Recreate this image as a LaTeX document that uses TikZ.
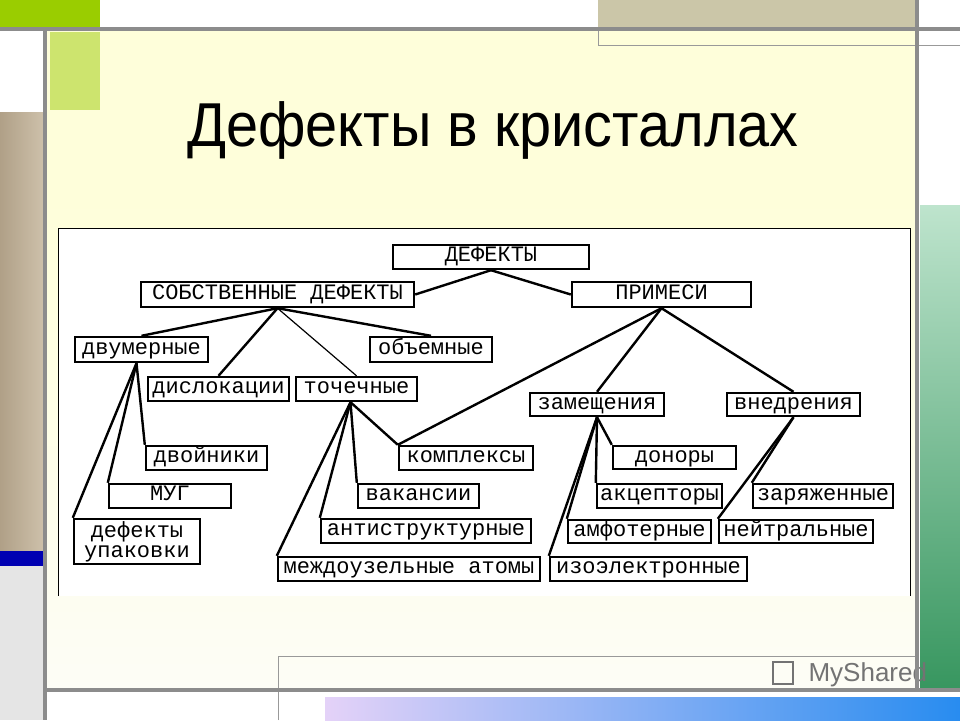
\documentclass[tikz,border=0pt]{standalone}
\usepackage{fontspec}
\setmainfont{Liberation Sans}
\newfontfamily\monof{Liberation Mono}
\usetikzlibrary{calc}
\definecolor{tanL}{RGB}{176,160,135}
\definecolor{tanR}{RGB}{205,192,170}
\definecolor{tanT}{RGB}{203,198,168}
\definecolor{mintT}{RGB}{190,228,205}
\definecolor{mintB}{RGB}{55,150,95}
\definecolor{purL}{RGB}{228,210,248}
\definecolor{bluR}{RGB}{40,140,240}
\definecolor{grn}{RGB}{154,205,0}
\definecolor{lgrn}{RGB}{205,228,110}
\definecolor{cream}{RGB}{254,254,218}
\definecolor{creamB}{RGB}{253,253,246}
\tikzset{
 box/.style={draw=black,line width=2.4pt,fill=white,inner sep=0pt,font=\monof\fontsize{22}{20}\selectfont,text=black,align=center,text height=12pt,text depth=3pt},
 ln/.style={draw=black,line width=2.4pt},
 thin/.style={draw=black,line width=1.2pt},
 deco/.style={draw=black!45,line width=4pt}
}
\newcommand{\bx}[6]{\node[box,minimum width={(#4-#2)*1pt},minimum height={(#5-#3)*1pt}] (#1) at ({(#2+#4)/2},{(#3+#5)/2}) {#6};}
\begin{document}
\begin{tikzpicture}[x=1pt,y=-1pt]
\useasboundingbox (0,0) rectangle (960,720);
\fill[white] (0,0) rectangle (960,720);
\fill[cream] (47,30) rectangle (917,690);
\fill[top color=cream,bottom color=creamB] (47,200) rectangle (917,690);
\fill[grn] (0,0) rectangle (100,27);
\fill[lgrn] (50,32) rectangle (100,110);
\fill[left color=tanL,right color=tanR] (0,112) rectangle (43,550);
\fill[blue!70!black] (0,551) rectangle (43,566);
\fill[black!10] (0,566) rectangle (43,720);
\fill[tanT] (598,0) rectangle (917,27);
\draw[black!40,line width=1pt] (598,27) -- (598,45) -- (917,45);
\draw[black!40,line width=1pt] (917,45) -- (960,45);
\fill[top color=mintT,bottom color=mintB] (920,205) rectangle (960,690);
\fill[left color=purL,right color=bluR] (325,697) rectangle (960,720);
\draw[black!40,line width=1pt] (278,720) -- (278,656) -- (917,656);
\node[text=black!55,font=\fontsize{26}{26}\selectfont,anchor=west] (ms) at (805,675) {MyShared};
\node[draw=black!55,line width=1.2pt,minimum width=20pt,minimum height=22pt,inner sep=0pt] (icon) at (783,673) {};
\draw[deco] (0,29) -- (960,29);
\draw[deco] (45,29) -- (45,720);
\draw[deco] (917,0) -- (917,690);
\draw[deco] (47,690) -- (960,690);
\node[font=\fontsize{62}{64}\selectfont,xscale=0.93] (title) at (493,130) {Дефекты в кристаллах};
\fill[white] (58,228) rectangle (910,596);
\draw[black,line width=1pt] (58,596) -- (58,228) -- (910,228) -- (910,596);
\bx{def}{393}{245}{589}{269}{ДЕФЕКТЫ}
\bx{sob}{141}{282}{414}{307}{СОБСТВЕННЫЕ ДЕФЕКТЫ}
\bx{pri}{572}{282}{751}{307}{ПРИМЕСИ}
\bx{dvu}{75}{337}{208}{362}{двумерные}
\bx{obj}{370}{337}{492}{362}{объемные}
\bx{dis}{148}{377}{289}{401}{дислокации}
\bx{toc}{296}{377}{417}{401}{точечные}
\bx{dvo}{146}{446}{267}{470}{двойники}
\bx{mug}{109}{484}{231}{508}{МУГ}
\node[box,minimum width=126pt,minimum height=45pt,text height=,text depth=] (upa) at (137,541.5) {дефекты\\упаковки};
\bx{kom}{399}{446}{533}{470}{комплексы}
\bx{vak}{358}{484}{479}{508}{вакансии}
\bx{ant}{321}{519}{531}{543}{антиструктурные}
\bx{mez}{278}{557}{540}{581}{междоузельные атомы}
\bx{zam}{530}{393}{664}{416}{замещения}
\bx{vne}{727}{393}{860}{416}{внедрения}
\bx{don}{613}{446}{736}{469}{доноры}
\bx{akc}{597}{484}{722}{508}{акцепторы}
\bx{zar}{753}{484}{893}{508}{заряженные}
\bx{amf}{568}{520}{711}{543}{амфотерные}
\bx{nei}{719}{520}{873}{543}{нейтральные}
\bx{izo}{550}{557}{747}{581}{изоэлектронные}
\draw[ln] (def.south) -- (sob.east);
\draw[ln] (def.south) -- (pri.west);
\draw[ln] (sob.south) -- (dvu.north);
\draw[ln] (sob.south) -- (obj.north);
\draw[ln] (sob.south) -- (dis.north);
\draw[thin] (sob.south) -- (toc.north);
\draw[ln] ([xshift=-5pt]dvu.south) -- (dvo.north west);
\draw[ln] ([xshift=-5pt]dvu.south) -- (mug.north west);
\draw[ln] ([xshift=-5pt]dvu.south) -- (upa.north west);
\draw[ln] ([xshift=-6pt]toc.south) -- (kom.north west);
\draw[ln] ([xshift=-6pt]toc.south) -- (vak.north west);
\draw[ln] ([xshift=-6pt]toc.south) -- (ant.north west);
\draw[ln] ([xshift=-6pt]toc.south) -- (mez.north west);
\draw[ln] (pri.south) -- (kom.north west);
\draw[ln] (pri.south) -- (zam.north);
\draw[ln] (pri.south) -- (vne.north);
\draw[ln] (zam.south) -- (don.north west);
\draw[ln] (zam.south) -- (akc.north west);
\draw[ln] (zam.south) -- (amf.north west);
\draw[ln] (zam.south) -- (izo.north west);
\draw[ln] (vne.south) -- (zar.north west);
\draw[ln] (vne.south) -- (nei.north west);
\end{tikzpicture}
\end{document}
